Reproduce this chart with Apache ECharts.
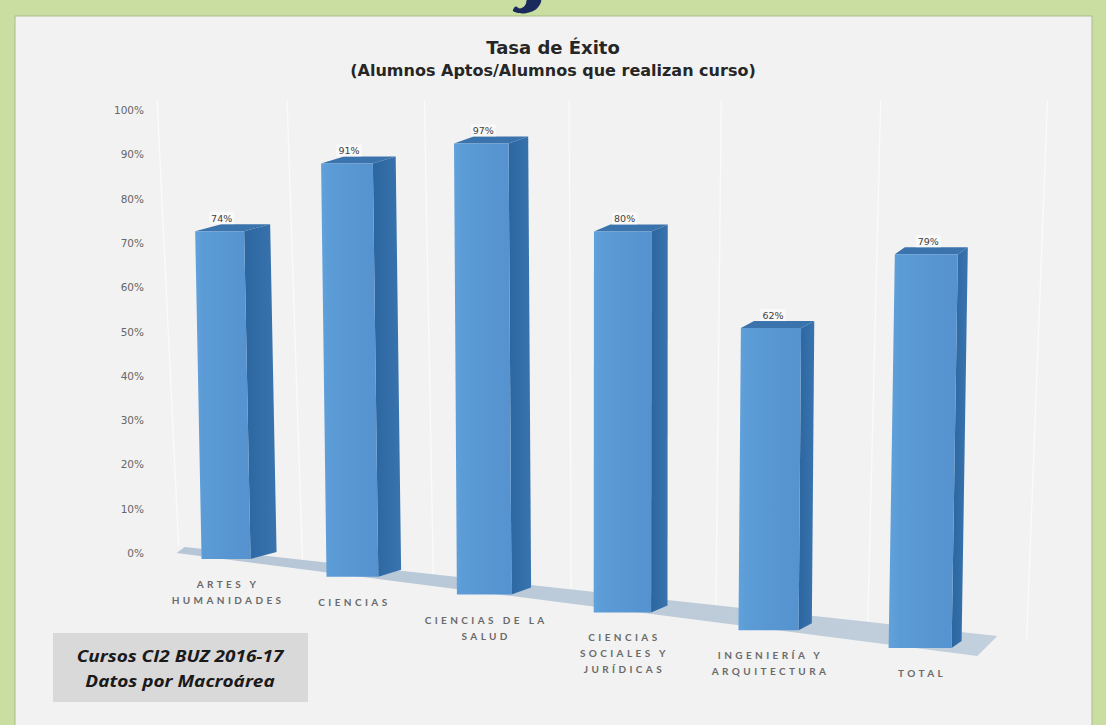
<!DOCTYPE html>
<html>
<head>
<meta charset="utf-8">
<script src="https://cdn.jsdelivr.net/npm/echarts@6/dist/echarts.min.js"></script>
<style>
html,body{margin:0;padding:0;background:#c9dea0;overflow:hidden;}
#chart{width:1106px;height:725px;}
#chart text[style*="Lato"], #chart text[font-family*="Lato"]{letter-spacing:3.4px;}
</style>
</head>
<body>
<div id="chart"></div>
<script>
// ---- data ----
const categories = ['ARTES Y\nHUMANIDADES', 'CIENCIAS', 'CIENCIAS DE LA\nSALUD', 'CIENCIAS\nSOCIALES Y\nJURÍDICAS', 'INGENIERÍA Y\nARQUITECTURA', 'TOTAL'];
const successRate = [74, 91, 97, 80, 62, 79];
const yMin = 0, yMax = 100, yStep = 10;
const titleText = 'Tasa de Éxito';
const subtitleText = '(Alumnos Aptos/Alumnos que realizan curso)';
const noteLines = ['Cursos CI2 BUZ 2016-17', 'Datos por Macroárea'];

// ---- perspective helpers (pure drawing geometry) ----
function frame(api) {
  const n = categories.length;
  const p0 = api.coord([0, 0]);
  const pn = api.coord([n - 1, 0]);
  const span = pn[0] - p0[0];
  const warp = u => p0[0] + span * (0.876 * u + 0.124 * u * u);
  return { n, p0, pn, span, warp, zero: p0[1], mid: p0[0] + 0.552 * span };
}
function layout(api, i, v) {
  const f = frame(api);
  const u = (api.coord([i, 0])[0] - f.p0[0]) / f.span;
  const t = u * (f.n - 1);
  const xc = f.warp(u);
  const h = (f.zero - api.coord([i, v])[1]) * (1 + 0.025 * t);
  const base = f.zero + 6 + 17.8 * t;
  const lean = (f.mid - xc) * h * 0.5e-4;
  return { xc, base, h, lean, w: 49 + 2.8 * t, s: 26 - 3.2 * t, d: 7 };
}

function renderFloor(params, api) {
  const f = frame(api);
  const FL = [f.p0[0] - 43, f.zero];
  const FR = [f.pn[0] + 51, f.zero + 103];
  const BR = [f.pn[0] + 71, f.zero + 83];
  const BL = [f.p0[0] - 35, f.zero - 6];
  const children = [];
  for (let j = 0; j <= f.n; j++) {
    const u = (j - 0.5) / (f.n - 1);
    const x = f.warp(u) + 20;
    const yb = BL[1] + (x - BL[0]) * (BR[1] - BL[1]) / (BR[0] - BL[0]);
    children.push({
      type: 'line',
      shape: { x1: x, y1: yb, x2: x + (x - f.mid) * 0.05, y2: 100 },
      style: { stroke: '#ffffff', lineWidth: 1.4, opacity: 0.6 }
    });
  }
  children.push({
    type: 'polygon',
    shape: { points: [FL, FR, BR, BL] },
    style: { fill: new echarts.graphic.LinearGradient(0, 0, 1, 0, [
      { offset: 0, color: '#b6c6d6' }, { offset: 1, color: '#c2cfdc' }]) }
  });
  return { type: 'group', children };
}

function renderBar(params, api) {
  const i = api.value(0), v = api.value(1);
  const g = layout(api, i, v);
  const top = g.base - g.h;
  const TL = [g.xc - g.w / 2, top], TR = [g.xc + g.w / 2, top];
  const BRp = [g.xc + g.w / 2 + g.lean, g.base], BLp = [g.xc - g.w / 2 + g.lean, g.base];
  const off = p => [p[0] + g.s, p[1] - g.d];
  return {
    type: 'group',
    children: [
      { type: 'polygon', shape: { points: [TR, off(TR), off(BRp), BRp] },
        style: { fill: new echarts.graphic.LinearGradient(0, 0, 1, 0, [
          { offset: 0, color: '#2c66a0' }, { offset: 1, color: '#3a74ae' }]) } },
      { type: 'polygon', shape: { points: [TL, TR, off(TR), off(TL)] },
        style: { fill: '#3b73ad' } },
      { type: 'polygon', shape: { points: [TL, TR, BRp, BLp] },
        style: { fill: new echarts.graphic.LinearGradient(0, 0, 1, 0, [
          { offset: 0, color: '#62a2dc' }, { offset: 0.15, color: '#5b9bd6' }, { offset: 1, color: '#5592cf' }]) } },
      { type: 'text', x: g.xc + 2, y: top - 13,
        style: { text: v + '%', fill: '#404040', font: '9.5px "DejaVu Sans"',
          align: 'center', verticalAlign: 'middle',
          backgroundColor: 'rgba(255,255,255,0.55)', padding: [1, 2] } },
      { type: 'text', x: g.xc + g.lean + 2, y: g.base + 17,
        style: { text: categories[i], fill: '#6a6a6a', font: 'bold 10px "Lato"',
          align: 'center', verticalAlign: 'top', lineHeight: 16 } }
    ]
  };
}

const chart = echarts.init(document.getElementById('chart'), null, { renderer: 'svg' });
chart.setOption({
  animation: false,
  backgroundColor: 'transparent',
  title: [
    { text: titleText, left: 'center', top: 33,
      textStyle: { fontFamily: 'DejaVu Sans', fontWeight: 'bold', fontSize: 18, color: '#262626' } },
    { text: subtitleText, left: 'center', top: 57,
      textStyle: { fontFamily: 'DejaVu Sans', fontWeight: 'bold', fontSize: 16, color: '#262626' } }
  ],
  grid: { left: 149, right: 109, top: 110, bottom: 172 },
  xAxis: { type: 'category', data: categories, show: false },
  yAxis: {
    type: 'value', min: yMin, max: yMax, interval: yStep,
    axisLabel: { formatter: '{value}%', fontFamily: 'DejaVu Sans', fontSize: 10.5, color: '#666666', margin: 5 },
    axisLine: { show: false }, axisTick: { show: false }, splitLine: { show: false }
  },
  graphic: [
    { type: 'rect', z: -100, shape: { x: 15, y: 16, width: 1077, height: 720 },
      style: { fill: '#f2f2f2', stroke: '#a7bd8c', lineWidth: 1 } },
    { type: 'polygon', z: -99,
      shape: { points: [[527, 0], [541, 0], [539, 6], [535, 10], [529, 12.5], [522, 13.5], [513, 11], [515.5, 6.5], [520, 8.5], [524, 6.5], [526, 3.5]], smooth: 0.3 },
      style: { fill: '#1b2a5c' } },
    { type: 'rect', z: 5, shape: { x: 53, y: 633, width: 255, height: 69 },
      style: { fill: '#d9d9d9' } },
    { type: 'text', z: 6, x: 180, y: 656, scaleX: 1.15,
      style: { text: noteLines[0], font: 'italic bold 16.5px "Open Sans"', fill: '#1a1a1a', align: 'center', verticalAlign: 'middle' } },
    { type: 'text', z: 6, x: 180, y: 681, scaleX: 1.15,
      style: { text: noteLines[1], font: 'italic bold 16.5px "Open Sans"', fill: '#1a1a1a', align: 'center', verticalAlign: 'middle' } }
  ],
  series: [
    { type: 'custom', z: 1, silent: true, data: [[0, 0]], renderItem: renderFloor, encode: { x: 0, y: 1 } },
    { type: 'custom', z: 2, data: successRate.map((v, i) => [i, v]), renderItem: renderBar, encode: { x: 0, y: 1 } }
  ]
});
// ensure spaced category lettering
const catLines = new Set(categories.join('\n').split('\n'));
document.querySelectorAll('#chart svg text, #chart svg tspan').forEach(el => {
  if (catLines.has(el.textContent.trim())) el.style.letterSpacing = '3.4px';
});
</script>
</body>
</html>
